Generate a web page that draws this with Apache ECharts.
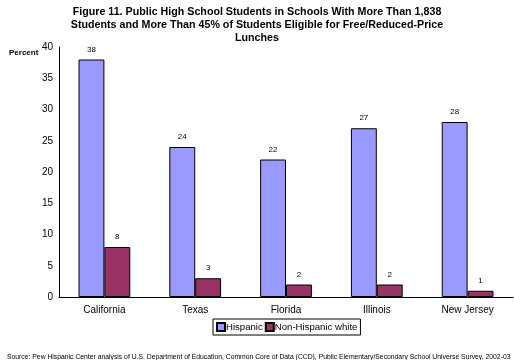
<!DOCTYPE html>
<html><head><meta charset="utf-8">
<script src="https://cdn.jsdelivr.net/npm/echarts@6/dist/echarts.min.js"></script>
<style>html,body{margin:0;padding:0;background:#fff}#c{width:514px;height:360px}</style>
</head><body><div id="c"></div>
<script>
var categories = ['California', 'Texas', 'Florida', 'Illinois', 'New Jersey'];
var hispanic = [38, 24, 22, 27, 28];
var nonHispanicWhite = [8, 3, 2, 2, 1];
var seriesNames = ['Hispanic', 'Non-Hispanic white'];
var yTicks = {min: 0, max: 40, interval: 5};

var font = 'Liberation Sans, Arial, sans-serif';
var chart = echarts.init(document.getElementById('c'));
chart.setOption({
  animation: false,
  title: [{
    text: 'Figure 11. Public High School Students in Schools With More Than 1,838\nStudents and More Than 45% of Students Eligible for Free/Reduced-Price\nLunches',
    left: 'center', top: 1,
    textStyle: {fontFamily: font, fontSize: 10.7, fontWeight: 'bold', color: '#000', lineHeight: 13}
  }, {
    text: 'Percent', left: 4, top: 44,
    textStyle: {fontFamily: font, fontSize: 8, fontWeight: 'bold', color: '#000'}
  }, {
    text: 'Source: Pew Hispanic Center analysis of U.S. Department of Education, Common Core of Data (CCD), Public Elementary/Secondary School Universe Survey, 2002-03',
    left: 2, top: 349,
    textStyle: {fontFamily: font, fontSize: 6.8, fontWeight: 'normal', color: '#000'}
  }],
  legend: {
    data: seriesNames, left: 213, top: 319,
    itemWidth: 8, itemHeight: 8, itemGap: 2,
    borderColor: '#000', borderWidth: 1, padding: [3, 3, 3, 3],
    textStyle: {fontFamily: font, fontSize: 9.6, color: '#000', padding: [0, 0, 0, -4]},
    icon: 'rect'
  },
  grid: {left: 59, right: 1, top: 47, bottom: 63, containLabel: false},
  xAxis: {
    type: 'category', data: categories,
    axisLine: {lineStyle: {color: '#000', width: 1}},
    axisTick: {show: false},
    axisLabel: {fontFamily: font, fontSize: 10, color: '#000', margin: 8}
  },
  yAxis: {
    type: 'value', min: yTicks.min, max: yTicks.max, interval: yTicks.interval,
    axisLine: {show: true, lineStyle: {color: '#000', width: 1}},
    axisTick: {show: false},
    splitLine: {show: false},
    axisLabel: {fontFamily: font, fontSize: 10, color: '#000', margin: 6}
  },
  series: [{
    name: seriesNames[0], type: 'bar', data: hispanic,
    barGap: '0%', barCategoryGap: '43%',
    itemStyle: {color: '#9999FF', borderColor: '#000', borderWidth: 1},
    label: {show: true, position: 'top', distance: 6, fontFamily: font, fontSize: 8, color: '#000'}
  }, {
    name: seriesNames[1], type: 'bar', data: nonHispanicWhite,
    itemStyle: {color: '#993366', borderColor: '#000', borderWidth: 1},
    label: {show: true, position: 'top', distance: 6, fontFamily: font, fontSize: 8, color: '#000'}
  }]
});
</script></body></html>
